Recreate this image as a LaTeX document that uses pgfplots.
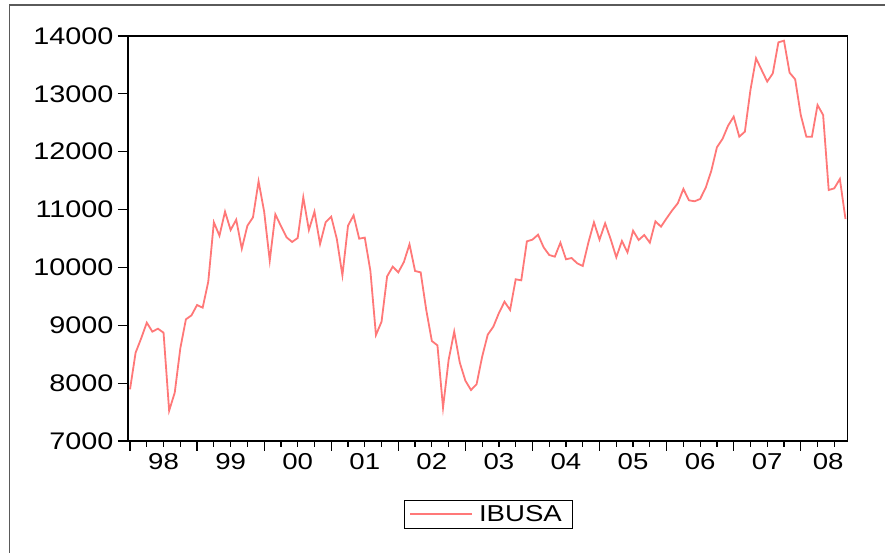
\documentclass[border=0pt]{standalone}
\usepackage{fontspec}
\setmainfont{Liberation Sans}[FakeStretch=1.2]
\usepackage{pgfplots}
\pgfplotsset{compat=1.18}
\definecolor{ibline}{RGB}{255,120,120}
\definecolor{frame}{RGB}{90,90,90}

\begin{document}
\begin{tikzpicture}
\useasboundingbox (0pt,0pt) rectangle (885pt,553pt);
\draw[frame, line width=1.5pt] (9.5pt,0pt) -- (9.5pt,548pt) -- (885pt,548pt);
\begin{axis}[
  at={(128pt,112pt)}, anchor=south west,
  scale only axis, width=719.7pt, height=405pt,
  xmin=-0.36, xmax=128.4,
  ymin=7000, ymax=14000,
  axis line style={line width=1.4pt},
  font=\fontsize{23}{24}\selectfont,
  scaled y ticks=false,
  /pgf/number format/assume math mode=true,
  /pgf/number format/set thousands separator={},
  ytick={7000,8000,...,14000},
  xtick={0,12,...,120},
  xticklabels={},
  minor xtick={3,6,9,15,18,21,27,30,33,39,42,45,51,54,57,63,66,69,75,78,81,87,90,93,99,102,105,111,114,117,123,126},
  extra x ticks={6,18,30,42,54,66,78,90,102,114,124.9},
  extra x tick labels={98,99,00,01,02,03,04,05,06,07,08},
  extra x tick style={major tick length=0pt, xticklabel style={yshift=-9pt}},
  tick align=outside,
  xtick pos=bottom, ytick pos=left,
  major tick length=10pt, minor tick length=6pt,
  tick style={black, line width=1.2pt},
  yticklabel style={xshift=-1pt, font=\fontsize{24}{26}\selectfont},
  legend style={at={(0.501,-0.146)}, anchor=north, draw=black, line width=0.8pt,
    font=\fontsize{23}{24}\selectfont, inner xsep=5pt, inner ysep=3pt,
    nodes={inner xsep=6pt}},
  legend image code/.code={\draw[#1] (0pt,0pt) -- (62pt,0pt);},
]
\addplot[ibline, line width=1.8pt] coordinates {
(0,7893) (1,8526) (2,8775) (3,9045) (4,8890) (5,8941) (6,8872) (7,7524)
(8,7835) (9,8602) (10,9103) (11,9172) (12,9351) (13,9304) (14,9754) (15,10780)
(16,10549) (17,10964) (18,10647) (19,10825) (20,10324) (21,10721) (22,10866) (23,11488)
(24,10964) (25,10117) (26,10918) (27,10716) (28,10521) (29,10440) (30,10509) (31,11212)
(32,10647) (33,10964) (34,10405) (35,10780) (36,10877) (37,10491) (38,9864) (39,10721)
(40,10901) (41,10497) (42,10515) (43,9944) (44,8832) (45,9062) (46,9846) (47,10013)
(48,9915) (49,10094) (50,10400) (51,9938) (52,9915) (53,9264) (54,8728) (55,8653)
(56,7576) (57,8400) (58,8890) (59,8354) (60,8043) (61,7881) (62,7980) (63,8457)
(64,8838) (65,8976) (66,9212) (67,9408) (68,9264) (69,9795) (70,9777) (71,10451)
(72,10480) (73,10566) (74,10347) (75,10215) (76,10186) (77,10428) (78,10140) (79,10163)
(80,10071) (81,10025) (82,10428) (83,10780) (84,10480) (85,10763) (86,10486) (87,10175)
(88,10457) (89,10261) (90,10635) (91,10474) (92,10560) (93,10428) (94,10797) (95,10704)
(96,10849) (97,10987) (98,11108) (99,11356) (100,11160) (101,11143) (102,11183) (103,11378)
(104,11672) (105,12076) (106,12220) (107,12450) (108,12606) (109,12260) (110,12346) (111,13067)
(112,13614) (113,13412) (114,13211) (115,13355) (116,13890) (117,13919) (118,13366) (119,13251)
(120,12635) (121,12260) (122,12260) (123,12807) (124,12635) (125,11338) (126,11367) (127,11528)
(128,10837)
};
\addlegendentry{IBUSA}
\end{axis}
\end{tikzpicture}
\end{document}
